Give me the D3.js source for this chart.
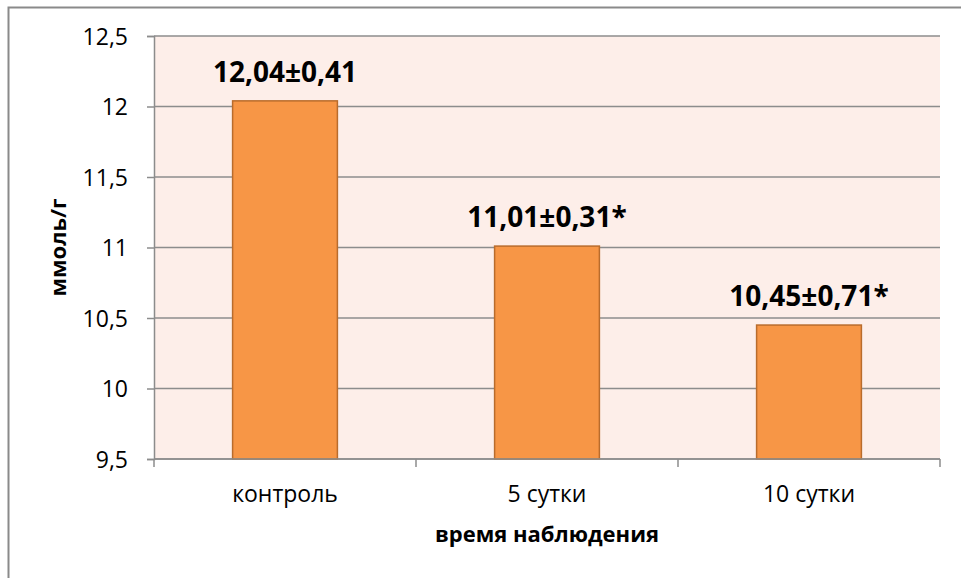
<!DOCTYPE html>
<html>
<head>
<meta charset="utf-8">
<script src="https://cdn.jsdelivr.net/npm/d3@7"></script>
<style>
  body { margin: 0; background: #fff; }
  svg text { font-family: "Open Sans", sans-serif; fill: #000; }
</style>
</head>
<body>
<div class="chart"></div>
<script>
// data
var categories = ["контроль", "5 сутки", "10 сутки"];
var values = [12.04, 11.01, 10.45];
var valueLabels = ["12,04±0,41", "11,01±0,31*", "10,45±0,71*"];
var yTicks = [9.5, 10, 10.5, 11, 11.5, 12, 12.5];

var W = 961, H = 578;
var margin = { top: 36, right: 21, bottom: 119, left: 154 },
    width = W - margin.left - margin.right,
    height = H - margin.top - margin.bottom;

var svg = d3.select(".chart").append("svg")
    .attr("width", W)
    .attr("height", H);

// outer frame (cut at the right and bottom in the picture)
svg.append("path")
    .attr("d", "M8.5," + H + "V7.5H" + W)
    .attr("fill", "none")
    .attr("stroke", "#8a8a8a")
    .attr("stroke-width", 2);

var g = svg.append("g")
    .attr("transform", "translate(" + margin.left + "," + margin.top + ")");

var x = d3.scaleBand()
    .domain(categories)
    .range([0, width])
    .paddingInner(0.6)
    .paddingOuter(0.3);

var y = d3.scaleLinear()
    .domain([9.5, 12.5])
    .range([height, 0]);

g.append("rect")
    .attr("width", width)
    .attr("height", height)
    .attr("fill", "#fdeee9");

// gridlines
g.selectAll(".grid")
    .data(yTicks)
    .enter().append("line")
    .attr("x1", 0)
    .attr("x2", width)
    .attr("y1", function(d) { return y(d); })
    .attr("y2", function(d) { return y(d); })
    .attr("stroke", "#8c8c8c")
    .attr("stroke-width", 1.5);

// y axis
var yAxis = g.append("g")
    .call(d3.axisLeft(y)
        .tickValues(yTicks)
        .tickSize(7)
        .tickPadding(19)
        .tickFormat(function(d) { return String(d).replace(".", ","); }));
yAxis.select(".domain").attr("stroke", "#8c8c8c").attr("stroke-width", 1.5);
yAxis.selectAll(".tick line").attr("stroke", "#8c8c8c").attr("stroke-width", 1.5);
yAxis.selectAll(".tick text")
    .style("font-size", "23px")
    .attr("dy", "0.36em");

// bars
g.selectAll(".bar")
    .data(values)
    .enter().append("rect")
    .attr("class", "bar")
    .attr("x", function(d, i) { return x(categories[i]); })
    .attr("width", x.bandwidth())
    .attr("y", function(d) { return y(d); })
    .attr("height", function(d) { return height - y(d); })
    .attr("fill", "#f79646")
    .attr("stroke", "#b96c2c")
    .attr("stroke-width", 1.5);

// x axis
var step = width / categories.length;
var xAxis = g.append("g")
    .attr("transform", "translate(0," + height + ")");
xAxis.append("line")
    .attr("x1", 0).attr("x2", width)
    .attr("stroke", "#8c8c8c").attr("stroke-width", 1.5);
xAxis.selectAll(".xtick")
    .data(d3.range(categories.length + 1))
    .enter().append("line")
    .attr("x1", function(d) { return d * step; })
    .attr("x2", function(d) { return d * step; })
    .attr("y1", 0)
    .attr("y2", 8)
    .attr("stroke", "#8c8c8c")
    .attr("stroke-width", 1.5);
xAxis.selectAll(".xlabel")
    .data(categories)
    .enter().append("text")
    .attr("x", function(d) { return x(d) + x.bandwidth() / 2; })
    .attr("y", 43)
    .attr("text-anchor", "middle")
    .style("font-size", "23px")
    .text(function(d) { return d; });

// value labels
g.selectAll(".vlabel")
    .data(values)
    .enter().append("text")
    .attr("x", function(d, i) { return x(categories[i]) + x.bandwidth() / 2; })
    .attr("y", function(d) { return y(d) - 19; })
    .attr("text-anchor", "middle")
    .style("font-size", "28px")
    .style("font-weight", "bold")
    .text(function(d, i) { return valueLabels[i]; });

// axis titles
g.append("text")
    .attr("x", width / 2)
    .attr("y", height + 83)
    .attr("text-anchor", "middle")
    .style("font-size", "22px")
    .style("font-weight", "bold")
    .text("время наблюдения");

g.append("text")
    .attr("transform", "translate(" + (66 - margin.left) + "," + (height / 2) + ") rotate(-90)")
    .attr("text-anchor", "middle")
    .style("font-size", "22px")
    .style("font-weight", "bold")
    .text("ммоль/г");
</script>
</body>
</html>
